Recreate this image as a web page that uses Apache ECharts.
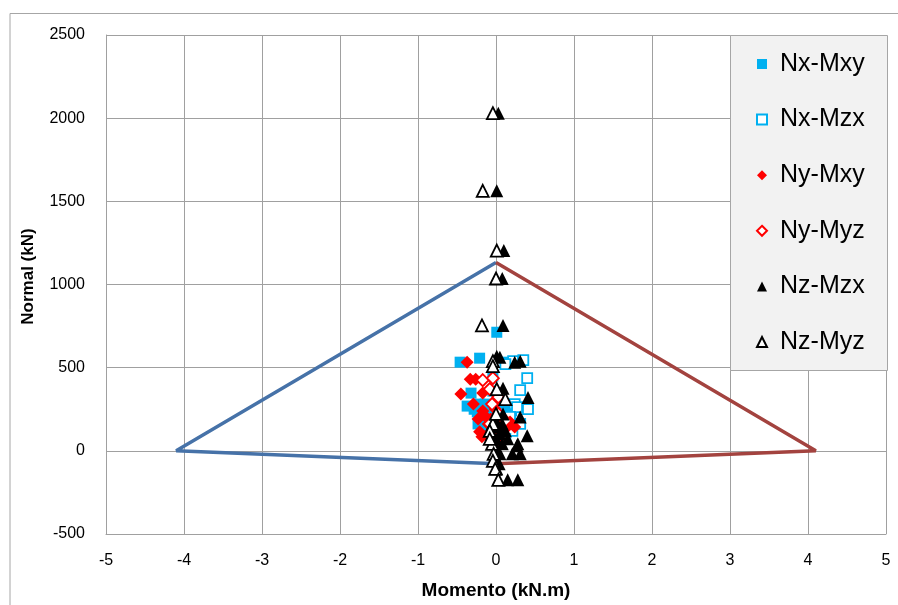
<!DOCTYPE html>
<html>
<head>
<meta charset="utf-8">
<script src="https://cdn.jsdelivr.net/npm/echarts@6/dist/echarts.min.js"></script>
<style>
html,body{margin:0;padding:0;background:#fff;}
#chart{width:898px;height:605px;}
</style>
</head>
<body>
<div id="chart"></div>
<script>
// ---- Data (Momento kN.m, Normal kN) ----
const seriesNames = ['Nx-Mxy', 'Nx-Mzx', 'Ny-Mxy', 'Ny-Myz', 'Nz-Mzx', 'Nz-Myz'];

const nxMxy = [
  [0.01, 713], [-0.46, 533], [-0.21, 557], [0.14, 533], [-0.04, 449], [-0.32, 347],
  [-0.04, 359], [-0.21, 281], [-0.24, 234], [-0.08, 222], [-0.37, 269], [0.03, 293],
  [0.12, 251], [-0.13, 192], [-0.01, 162], [0.09, 132], [0.18, 192], [-0.10, 132],
  [0.05, 90], [-0.23, 162], [-0.14, 281], [-0.28, 250], [0.06, 230], [0.20, 240]
];
const nxMzx = [
  [0.22, 539], [0.35, 545], [0.40, 437], [0.31, 365], [0.41, 251], [0.24, 281],
  [0.12, 521], [0.27, 263], [0.18, 204], [0.12, 162], [0.21, 120], [0.12, 72],
  [0.31, 162], [0.05, 204]
];
const nyMxy = [
  [-0.37, 533], [-0.33, 431], [-0.26, 431], [-0.45, 341], [-0.17, 347], [-0.29, 281],
  [-0.17, 240], [-0.01, 251], [-0.14, 210], [0.18, 174], [-0.21, 114], [-0.12, 90],
  [-0.04, 72], [0.03, 54], [-0.10, 162], [-0.23, 192], [0.12, 132], [0.24, 144],
  [-0.18, 84], [-0.07, 190], [0.02, 110]
];
const nyMyz = [
  [-0.17, 425], [-0.04, 437], [0.05, 341], [-0.05, 281], [0.03, 323], [-0.08, 371],
  [0.03, 222], [0.12, 180], [-0.08, 162], [0.05, 120], [0.00, 72]
];
const nzMzx = [
  [0.03, 2030], [0.01, 1563], [0.10, 1204], [0.08, 1036], [0.09, 754], [0.01, 569],
  [0.05, 563], [0.24, 533], [0.31, 539], [0.09, 377], [0.41, 320], [0.31, 204],
  [0.08, 162], [0.40, 90], [0.28, 42], [0.27, 30], [0.31, -18], [0.21, -18],
  [0.15, -174], [0.28, -174], [-0.01, 192], [0.03, 144], [0.05, 102], [0.00, 72],
  [0.08, 42], [0.01, 12], [0.05, -18], [0.00, -48], [0.04, -78], [0.01, -108],
  [0.12, 120], [-0.04, 84], [0.09, 222], [0.15, 72]
];
const nzMyz = [
  [-0.04, 2030], [-0.17, 1563], [0.01, 1204], [0.00, 1036], [-0.18, 754], [-0.04, 539],
  [-0.04, 509], [0.01, 371], [0.12, 311], [-0.04, 162], [-0.08, 120], [-0.05, 42],
  [-0.03, -18], [-0.04, -60], [-0.01, -108], [0.03, -174], [-0.08, 72], [0.00, 222]
];
const envelopeLeft = [[0, 1132], [-4.1, 0], [0, -78]];
const envelopeRight = [[0, 1132], [4.1, 0], [0, -78]];

const xTicks = { min: -5, max: 5, interval: 1 };
const yTicks = { min: -500, max: 2500, interval: 500 };

const FONT = '"Liberation Sans", Arial, sans-serif';

const chart = echarts.init(document.getElementById('chart'), null, { renderer: 'canvas' });

function scatter(name, data, symbol, size, color, hollow) {
  return {
    name: name,
    type: 'scatter',
    data: data,
    symbol: symbol,
    symbolSize: size,
    z: 3,
    itemStyle: hollow
      ? { color: '#ffffff', borderColor: color, borderWidth: 1.8, opacity: 1 }
      : { color: color, opacity: 1 },
    emphasis: { disabled: true }
  };
}

const option = {
  animation: false,
  backgroundColor: '#ffffff',
  grid: { left: 106, right: 12, top: 35, bottom: 69, containLabel: false },
  xAxis: {
    type: 'value',
    min: xTicks.min, max: xTicks.max, interval: xTicks.interval,
    name: 'Momento (kN.m)',
    nameLocation: 'middle',
    nameGap: 47,
    nameTextStyle: { fontFamily: FONT, fontSize: 19, fontWeight: 'bold', color: '#000' },
    axisLine: { onZero: false, lineStyle: { color: '#a0a0a0', width: 1 } },
    axisTick: { show: false },
    axisLabel: { fontFamily: FONT, fontSize: 16, color: '#000', margin: 19, formatter: v => String(v) },
    splitLine: { show: true, lineStyle: { color: '#a0a0a0', width: 1 } }
  },
  yAxis: {
    type: 'value',
    min: yTicks.min, max: yTicks.max, interval: yTicks.interval,
    name: 'Normal (kN)',
    nameLocation: 'middle',
    nameGap: 69,
    nameRotate: 90,
    nameTextStyle: { fontFamily: FONT, fontSize: 17, fontWeight: 'bold', color: '#000', padding: [0, 0, 0, 16] },
    axisLine: { show: true, onZero: false, lineStyle: { color: '#a0a0a0', width: 1 } },
    axisTick: { show: false },
    axisLabel: { fontFamily: FONT, fontSize: 16, color: '#000', margin: 21, formatter: v => String(v) },
    splitLine: { show: true, lineStyle: { color: '#a0a0a0', width: 1 } }
  },
  legend: {
    data: seriesNames,
    orient: 'vertical',
    left: 756,
    top: 49,
    padding: 0,
    z: 20,
    itemWidth: 10,
    itemHeight: 10,
    itemGap: 25.6,
    selectedMode: false,
    textStyle: { fontFamily: FONT, fontSize: 25, color: '#000', lineHeight: 30, padding: [0, 0, 0, 8] }
  },
  graphic: [
    {
      type: 'polyline',
      shape: { points: [[10, 605], [10, 13.5], [898, 13.5]] },
      style: { stroke: '#a6a6a6', lineWidth: 1, fill: null },
      silent: true, z: 0
    },
    {
      type: 'rect',
      shape: { x: 730.5, y: 35.5, width: 157, height: 335 },
      style: { fill: '#f2f2f2', stroke: '#a6a6a6', lineWidth: 1 },
      silent: true, z: 5
    }
  ],
  series: [
    {
      name: 'envL', type: 'line', data: envelopeLeft, showSymbol: false, symbol: 'none',
      lineStyle: { color: '#4672a8', width: 3.5 }, z: 1, silent: true
    },
    {
      name: 'envR', type: 'line', data: envelopeRight, showSymbol: false, symbol: 'none',
      lineStyle: { color: '#a3433f', width: 3.5 }, z: 1, silent: true
    },
    scatter('Nx-Mxy', nxMxy, 'rect', 11, '#00b0f0', false),
    scatter('Nx-Mzx', nxMzx, 'rect', 10, '#00b0f0', true),
    scatter('Ny-Mxy', nyMxy, 'diamond', 13, '#ff0000', false),
    scatter('Ny-Myz', nyMyz, 'diamond', 12, '#ff0000', true),
    scatter('Nz-Mzx', nzMzx, 'triangle', 13, '#000000', false),
    scatter('Nz-Myz', nzMyz, 'triangle', 12, '#000000', true)
  ]
};
chart.setOption(option);
</script>
</body>
</html>
